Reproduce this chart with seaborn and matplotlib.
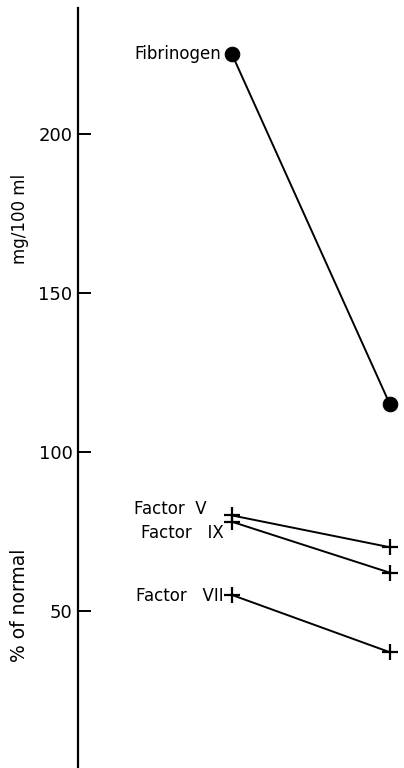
import pandas as pd
import matplotlib
matplotlib.use("Agg")
import matplotlib.pyplot as plt
import seaborn as sns

sns.set_style("white")
plt.rcParams['font.family'] = ['DejaVu Sans']

# values
series = ["Fibrinogen", "Factor V", "Factor IX", "Factor VII"]
labels = ["Fibrinogen", "Factor  V", "Factor   IX", "Factor   VII"]
before = [225, 80, 78, 55]
after = [115, 70, 62, 37]
yticks = [50, 100, 150, 200]

rows = []
for s, b, a in zip(series, before, after):
    rows.append({"series": s, "t": 0, "value": b})
    rows.append({"series": s, "t": 1, "value": a})
df = pd.DataFrame(rows)

fig = plt.figure(figsize=(4.04, 7.68), dpi=100)
ax = fig.add_axes([78 / 404, 0.0, (404 - 78) / 404, 760 / 768])

for s in series:
    d = df[df.series == s]
    if s == "Fibrinogen":
        sns.lineplot(data=d, x="t", y="value", ax=ax, color="black", lw=1.4,
                     marker="o", markersize=10.5, markeredgecolor="black",
                     markerfacecolor="black")
    else:
        sns.lineplot(data=d, x="t", y="value", ax=ax, color="black", lw=1.4,
                     marker="+", markersize=11, markeredgewidth=1.6,
                     markeredgecolor="black")

# labels to the left of the first point
offsets = {"Fibrinogen": (-8, 0), "Factor V": (-18, 4.5), "Factor IX": (-6, -8),
           "Factor VII": (-6, -1)}
for s, lab, b in zip(series, labels, before):
    dx, dy = offsets[s]
    ax.annotate(lab, xy=(0, b), xytext=(dx, dy), textcoords="offset points",
                ha="right", va="center", fontsize=12, color="black")

ax.set_xlim(-0.975, 1.09)
ax.set_ylim(0.6, 239.5)
ax.set_yticks(yticks)
ax.set_yticklabels([str(v) for v in yticks], fontsize=13, color="black")
ax.tick_params(axis="y", direction="in", length=9, width=1.4, pad=4, left=True,
               colors="black")
ax.set_xticks([])
ax.set_xlabel("")
ax.set_ylabel("")
for side in ["top", "right", "bottom"]:
    ax.spines[side].set_visible(False)
ax.spines["left"].set_linewidth(1.6)
ax.spines["left"].set_color("black")

fig.text(20 / 404, 1 - 219 / 768, "mg/100 ml", rotation=90, ha="center",
         va="center", fontsize=12, color="black")
fig.text(20 / 404, 1 - 605 / 768, "% of normal", rotation=90, ha="center",
         va="center", fontsize=13.5, color="black")

fig.savefig("out.png", dpi=100)
